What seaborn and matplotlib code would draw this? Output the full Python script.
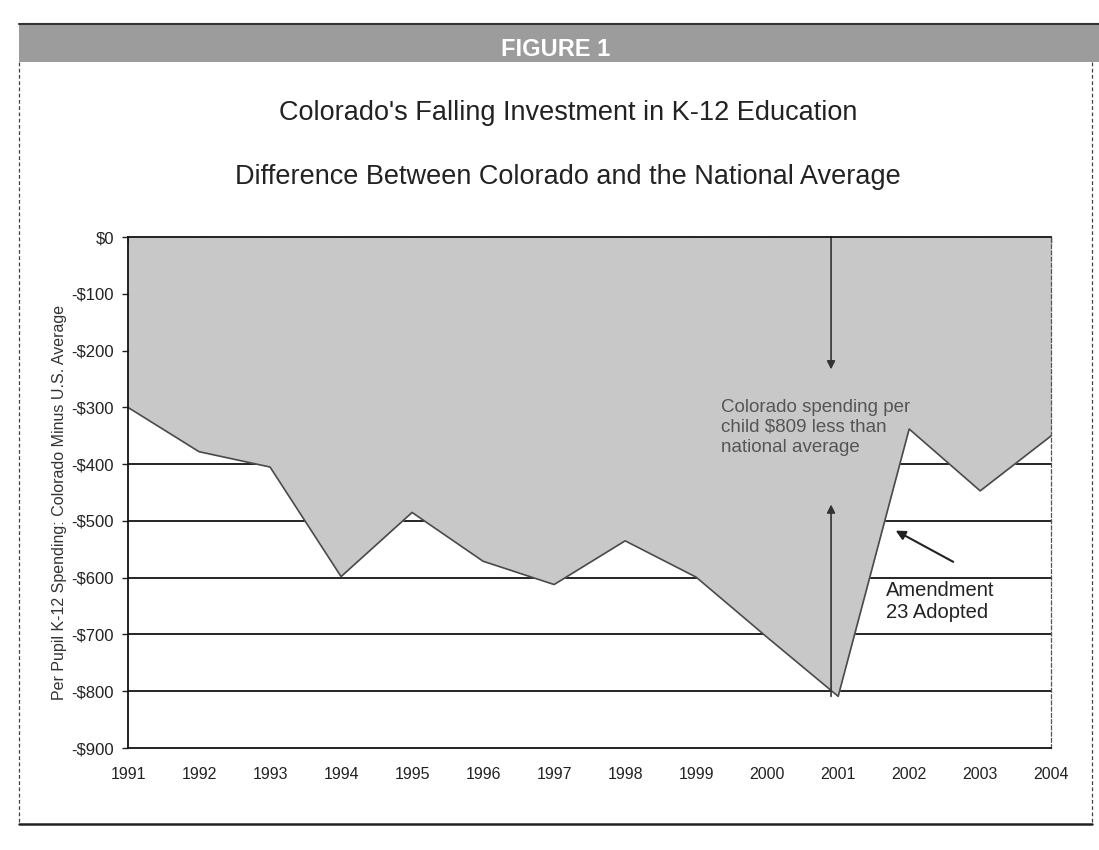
import matplotlib
matplotlib.use("Agg")
import matplotlib.pyplot as plt
from matplotlib.patches import Rectangle
from matplotlib.lines import Line2D
import pandas as pd
import seaborn as sns

# Per-pupil K-12 spending, Colorado minus U.S. average (dollars)
years = [1991, 1992, 1993, 1994, 1995, 1996, 1997,
         1998, 1999, 2000, 2001, 2002, 2003, 2004]
gap = [-300, -378, -405, -598, -485, -571, -612,
       -535, -599, -705, -809, -338, -447, -350]

y_ticks = [0, -100, -200, -300, -400, -500, -600, -700, -800, -900]
y_tick_labels = ["$0", "-$100", "-$200", "-$300", "-$400",
                 "-$500", "-$600", "-$700", "-$800", "-$900"]
x_tick_labels = [str(y) for y in years]

header = "FIGURE 1"
title = "Colorado's Falling Investment in K-12 Education"
subtitle = "Difference Between Colorado and the National Average"
y_label = "Per Pupil K-12 Spending: Colorado Minus U.S. Average"
gap_note = "Colorado spending per\nchild $809 less than\nnational average"
amend_note = "Amendment\n23 Adopted"

sns.set_theme(style="white")
plt.rcParams["font.family"] = ["Liberation Sans", "DejaVu Sans"]

df = pd.DataFrame({"year": years, "gap": gap})

fig = plt.figure(figsize=(10.99, 8.5), dpi=100)
fig.patch.set_facecolor("white")
ax = fig.add_axes([0.1165, 0.12, 0.84, 0.601])

# horizontal gridlines sit behind the shaded area
for v in y_ticks[1:-1]:
    ax.axhline(v, color="black", lw=1.2, zorder=1)

ax.fill_between(df["year"], 0, df["gap"], color="#c8c8c8", lw=0, zorder=2)
sns.lineplot(data=df, x="year", y="gap", color="#4a4a4a", lw=1.2,
             ax=ax, zorder=3, legend=False)

ax.set_xlim(years[0], years[-1])
ax.set_ylim(-900, 0)
ax.set_yticks(y_ticks)
ax.set_yticklabels(y_tick_labels)
ax.set_xticks(years)
ax.set_xticklabels(x_tick_labels)
ax.set_xlabel("")
ax.set_ylabel(y_label, fontsize=11.5, color="#333333")
ax.yaxis.set_label_coords(-0.066, 0.48)

ax.tick_params(axis="y", direction="out", length=4, width=1, pad=6,
               labelsize=12, labelcolor="#222222", left=True, color="#222222")
ax.tick_params(axis="x", direction="in", length=4, width=1,
               top=True, bottom=False, labeltop=False, labelbottom=True,
               pad=14, labelsize=11.5, labelcolor="#222222", color="#222222")

for side in ["left", "bottom", "top"]:
    ax.spines[side].set_visible(True)
    ax.spines[side].set_color("#111111")
    ax.spines[side].set_linewidth(1.3)
    ax.spines[side].set_zorder(5)
ax.spines["right"].set_visible(True)
ax.spines["right"].set_color("#555555")
ax.spines["right"].set_linewidth(0.9)
ax.spines["right"].set_linestyle((0, (3, 2)))

# gap callout with arrows from the top edge and from the 2001 low point
arrow_x = 2000.9
ax.annotate("", xy=(arrow_x, -233), xytext=(arrow_x, 0),
            arrowprops=dict(arrowstyle="-|>", color="#333333", lw=1.2,
                            mutation_scale=12, shrinkA=0, shrinkB=0), zorder=4)
ax.annotate("", xy=(arrow_x, -471), xytext=(arrow_x, gap[years.index(2001)]),
            arrowprops=dict(arrowstyle="-|>", color="#333333", lw=1.2,
                            mutation_scale=12, shrinkA=0, shrinkB=0), zorder=4)
ax.text(1999.35, -335, gap_note, ha="left", va="center", fontsize=13.5,
        color="#555555", linespacing=1.25, zorder=4)

ax.text(2001.68, -642, amend_note, ha="left", va="center", fontsize=14.5,
        color="#222222", linespacing=1.15, zorder=4)
ax.annotate("", xy=(2001.81, -517), xytext=(2002.62, -572),
            arrowprops=dict(arrowstyle="-|>", color="#222222", lw=1.5,
                            mutation_scale=14, shrinkA=0, shrinkB=0), zorder=4)

# titles
fig.text(0.517, 0.867, title, ha="center", va="center", fontsize=19.5,
         color="#222222")
fig.text(0.517, 0.792, subtitle, ha="center", va="center", fontsize=19.5,
         color="#222222")

# header band and outer frame
x0 = 19 / 1099
x1 = 1092 / 1099
fig.patches.append(Rectangle((x0, 0.927), 1 - x0, 0.045,
                             transform=fig.transFigure, facecolor="#9c9c9c",
                             edgecolor="none", zorder=0))
fig.lines.append(Line2D([x0, 1], [0.972, 0.972], transform=fig.transFigure,
                        color="#333333", lw=1.5))
fig.text(0.506, 0.942, header, ha="center", va="center", fontsize=17,
         fontweight="bold", color="white")

frame_bottom = 0.0306
fig.lines.append(Line2D([x0, x0], [0.927, frame_bottom], transform=fig.transFigure,
                        color="#444444", lw=0.9, linestyle=(0, (3, 2))))
fig.lines.append(Line2D([x1, x1], [0.927, frame_bottom], transform=fig.transFigure,
                        color="#444444", lw=0.9, linestyle=(0, (3, 2))))
fig.lines.append(Line2D([x0, x1], [frame_bottom, frame_bottom],
                        transform=fig.transFigure, color="#222222", lw=1.8))

fig.savefig("out.png", dpi=100, facecolor="white")
